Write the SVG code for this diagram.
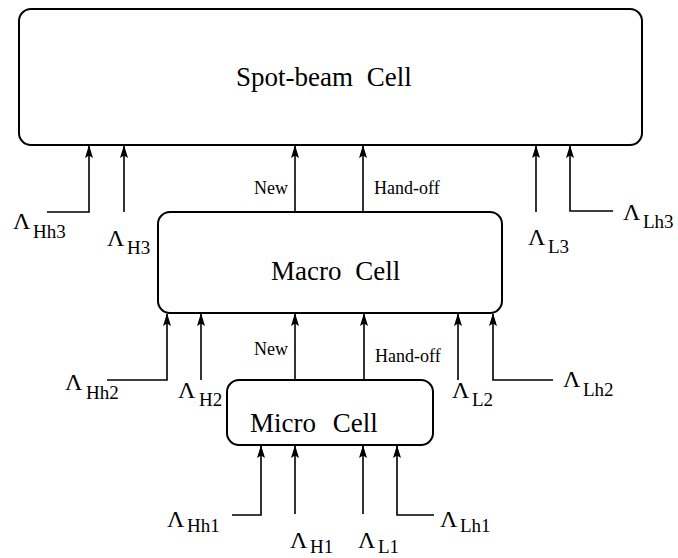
<svg xmlns="http://www.w3.org/2000/svg" width="678" height="558" viewBox="0 0 678 558">
<style>
.box{fill:#fff;stroke:#000;stroke-width:2}
.lbl{font-family:"Liberation Serif","Times New Roman",serif;font-size:27px;fill:#000}
.sm{font-family:"Liberation Serif","Times New Roman",serif;font-size:18px;fill:#000}
.lam{font-family:"Liberation Serif","Times New Roman",serif;font-size:24px;fill:#000}
.sub{font-size:19px}
.con{fill:none;stroke:#000;stroke-width:1.6;marker-end:url(#ah)}
</style>
<defs>
<marker id="ah" markerUnits="userSpaceOnUse" markerWidth="13" markerHeight="8" refX="12" refY="4" orient="auto" viewBox="0 0 13 8">
<path d="M13,4 L0,0 L2.5,4 L0,8 Z" fill="#000"/>
</marker>
</defs>
<rect width="678" height="558" fill="#fff"/>
<g id="spotbeam">
<rect class="box" x="19" y="9" width="623" height="136" rx="12"/>
<text class="lbl" x="236" y="86" word-spacing="7">Spot-beam Cell</text>
</g>
<g id="macro">
<rect class="box" x="158" y="212" width="344" height="101" rx="12"/>
<text class="lbl" x="271" y="280" word-spacing="7">Macro Cell</text>
</g>
<g id="micro">
<rect class="box" x="227" y="380" width="206" height="65" rx="12"/>
<text class="lbl" x="250" y="432" font-size="28" word-spacing="10">Micro Cell</text>
</g>
<g id="connectors">
<polyline class="con" points="47,212 89,212 89,146"/>
<polyline class="con" points="124,212 124,146"/>
<polyline class="con" points="295,212 295,146"/>
<polyline class="con" points="363,212 363,146"/>
<polyline class="con" points="536,212 536,146"/>
<polyline class="con" points="613,211 570,211 570,146"/>
<polyline class="con" points="107,380 167,380 167,314"/>
<polyline class="con" points="201,380 201,314"/>
<polyline class="con" points="295,380 295,314"/>
<polyline class="con" points="364,380 364,314"/>
<polyline class="con" points="458,380 458,314"/>
<polyline class="con" points="553,380 493,380 493,314"/>
<polyline class="con" points="232,515 261,515 261,446"/>
<polyline class="con" points="295,514 295,446"/>
<polyline class="con" points="363,514 363,446"/>
<polyline class="con" points="434,515 397,515 397,446"/>
</g>
<g id="flow-labels">
<text class="sm" x="254" y="194">New</text>
<text class="sm" x="374" y="194">Hand-off</text>
<text class="sm" x="254" y="355">New</text>
<text class="sm" x="375" y="362">Hand-off</text>
</g>
<g id="rates">
<text class="lam" x="13" y="229">Λ<tspan class="sub" x="33" y="238">Hh3</tspan></text>
<text class="lam" x="107" y="246">Λ<tspan class="sub" x="127" y="254">H3</tspan></text>
<text class="lam" x="528" y="245">Λ<tspan class="sub" x="548" y="253">L3</tspan></text>
<text class="lam" x="623" y="220">Λ<tspan class="sub" x="643" y="228">Lh3</tspan></text>
<text class="lam" x="65" y="390">Λ<tspan class="sub" x="86" y="399">Hh2</tspan></text>
<text class="lam" x="178" y="398">Λ<tspan class="sub" x="199" y="406">H2</tspan></text>
<text class="lam" x="452" y="398">Λ<tspan class="sub" x="472" y="406">L2</tspan></text>
<text class="lam" x="563" y="387">Λ<tspan class="sub" x="583" y="396">Lh2</tspan></text>
<text class="lam" x="167" y="527">Λ<tspan class="sub" x="187" y="532">Hh1</tspan></text>
<text class="lam" x="290" y="548">Λ<tspan class="sub" x="310" y="553">H1</tspan></text>
<text class="lam" x="358" y="548">Λ<tspan class="sub" x="378" y="553">L1</tspan></text>
<text class="lam" x="440" y="527">Λ<tspan class="sub" x="460" y="532">Lh1</tspan></text>
</g>
</svg>
